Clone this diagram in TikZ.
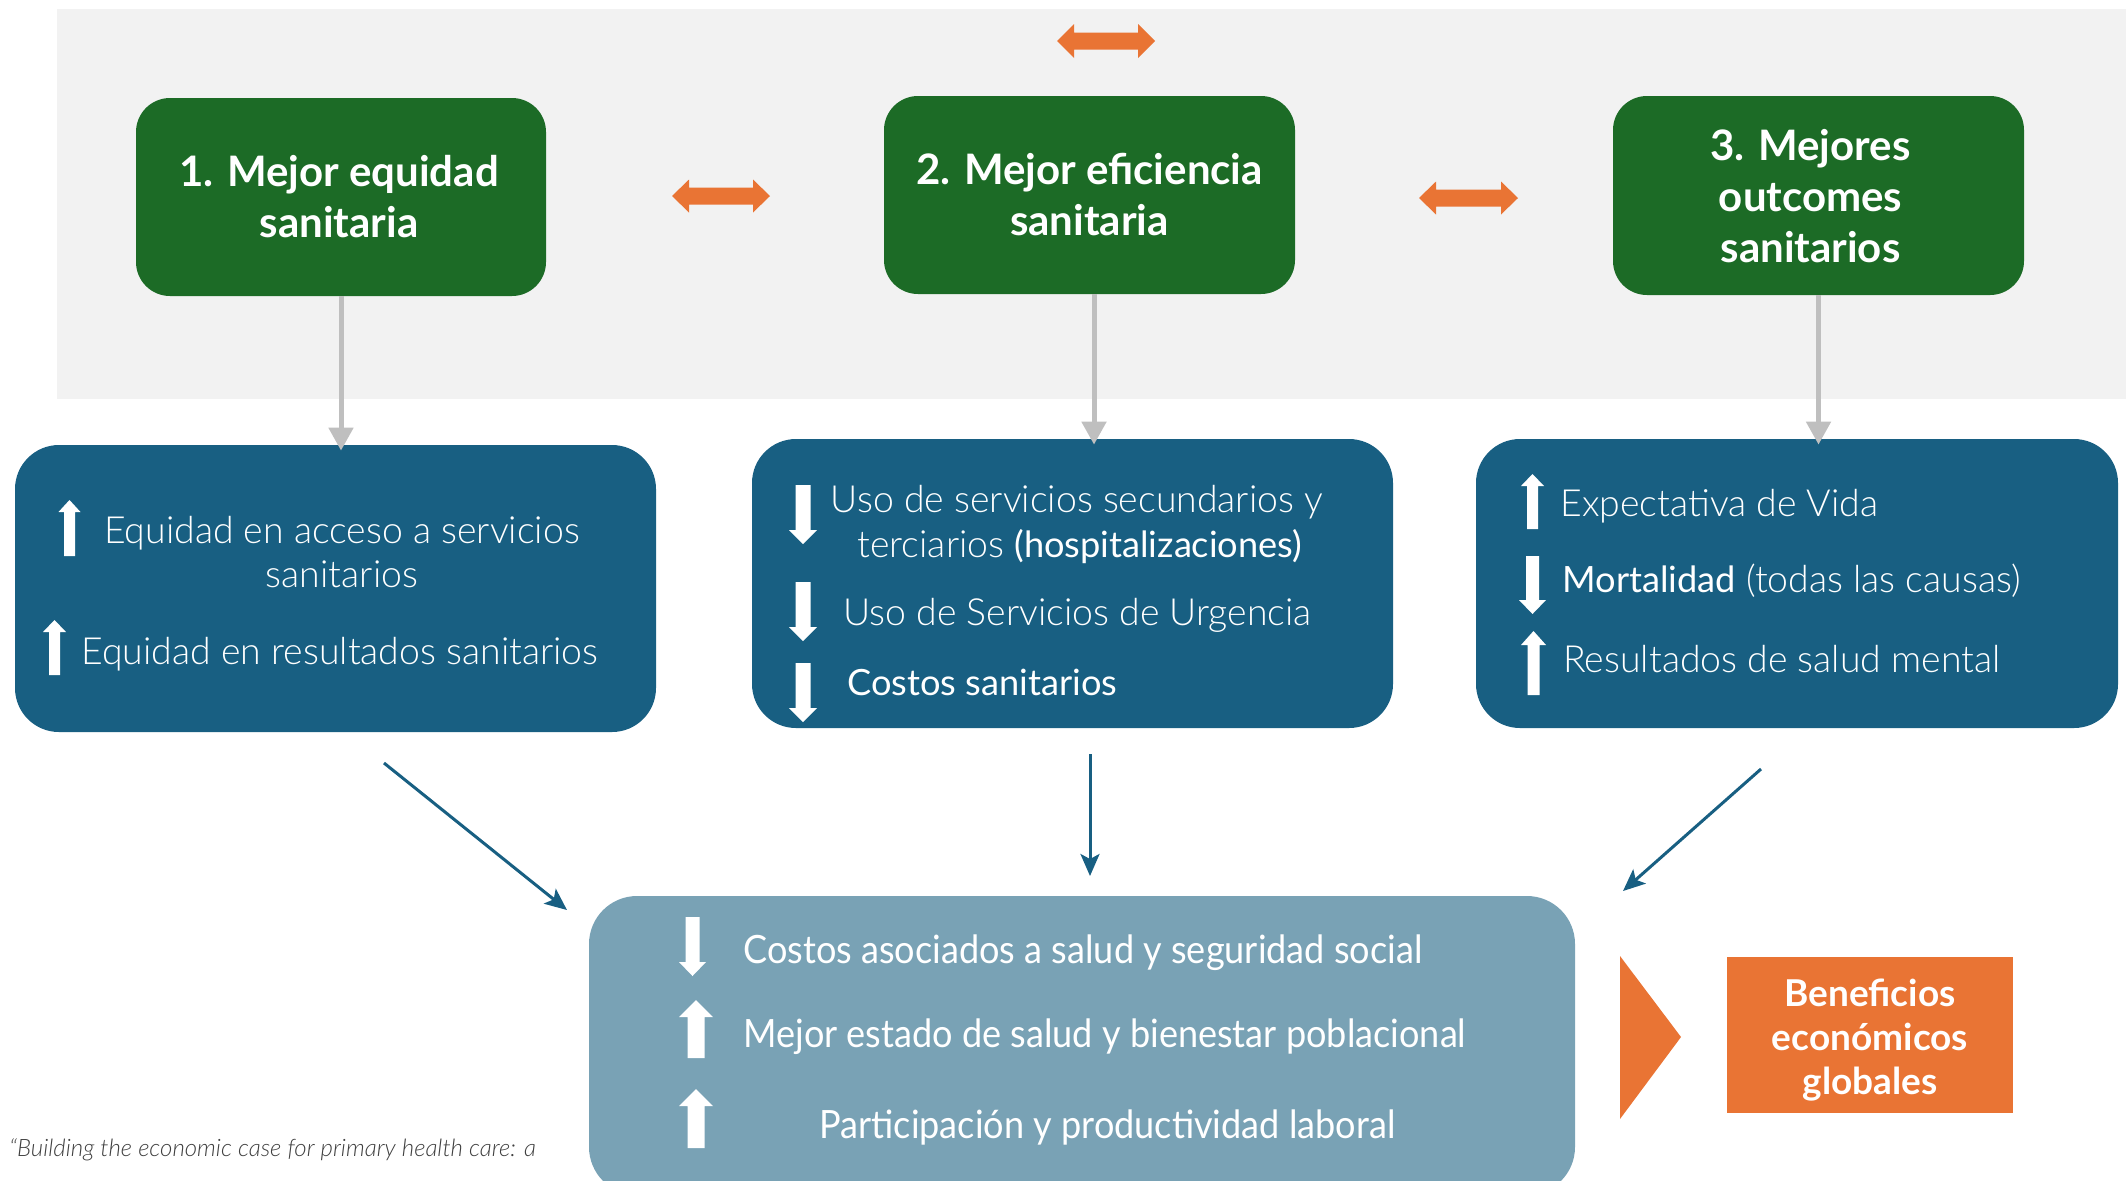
\documentclass[tikz,border=0pt]{standalone}
\usepackage{fontspec}
\setmainfont{Lato}
\newfontfamily\lightf{Lato Light}
\newfontfamily\lightit{Lato Light Italic}
\newfontfamily\condf{Lato}[FakeStretch=0.925]
\usetikzlibrary{arrows.meta}
\definecolor{bggrey}{HTML}{F2F2F2}
\definecolor{gboxc}{HTML}{1C6B26}
\definecolor{bboxc}{HTML}{185F82}
\definecolor{lboxc}{HTML}{79A2B5}
\definecolor{orc}{HTML}{E97434}
\definecolor{garc}{HTML}{BFBFBF}
\definecolor{notec}{HTML}{3F3F3F}
\newcommand\blockarr[6]{\fill[white] ({#1},{#2}) -- ({#1+#4},{#2+(#6)}) -- ({#1+#5},{#2+(#6)}) -- ({#1+#5},{#3}) -- ({#1-#5},{#3}) -- ({#1-#5},{#2+(#6)}) -- ({#1-#4},{#2+(#6)}) -- cycle;}
\newcommand\dblarr[6]{\fill[orc] ({#1},{#3}) -- ({#1+#6},{#3-#4}) -- ({#1+#6},{#3-#5}) -- ({#2-#6},{#3-#5}) -- ({#2-#6},{#3-#4}) -- ({#2},{#3}) -- ({#2-#6},{#3+#4}) -- ({#2-#6},{#3+#5}) -- ({#1+#6},{#3+#5}) -- ({#1+#6},{#3+#4}) -- cycle;}
\newcommand\regf{\rmfamily\fontsize{18.1}{22}\selectfont}
\begin{document}
\begin{tikzpicture}[x=0.5pt,y=-0.5pt,
  greenbox/.style={fill=gboxc, rounded corners=17pt, inner sep=0pt},
  greentext/.style={text=white, align=center, inner sep=0pt,
    font=\bfseries\fontsize{21}{25.5}\selectfont},
  bluebox/.style={fill=bboxc, rounded corners=22pt, inner sep=0pt},
  lbluebox/.style={fill=lboxc, rounded corners=24pt, inner sep=0pt},
  orbox/.style={text=white, align=center, inner sep=0pt,
    font=\bfseries\fontsize{18.5}{22}\selectfont},
  lt/.style={text=white, inner sep=0pt, font=\lightf\fontsize{18.7}{22}\selectfont},
  ct/.style={text=white, inner sep=0pt, font=\condf\fontsize{19.5}{22}\selectfont},
  garr/.style={draw=garc, line width=2.5pt, -{Triangle[length=11.5pt,width=12pt]}, shorten >=-3pt},
  darr/.style={draw=bboxc, line width=1.5pt, -{Stealth[length=11pt,width=9.5pt,inset=2.5pt]}}]
\useasboundingbox (0,0) rectangle (2126,1180);
\clip (0,0) rectangle (2126,1180);
\fill[bggrey] (57,9) rectangle (2126,399);

% top boxes
\node[greenbox, minimum width=205pt, minimum height=99pt] (g1) at (341,197) {};
\node[greentext] (g1t) at (339,197) {1. Mejor equidad\\sanitaria};
\node[greenbox, minimum width=205.5pt, minimum height=99pt] (g2) at (1089.5,195) {};
\node[greentext] (g2t) at (1089.5,195) {2. Mejor eficiencia\\sanitaria};
\node[greenbox, minimum width=205.5pt, minimum height=99.5pt] (g3) at (1818.5,195.5) {};
\node[greentext] (g3t) at (1810.5,196.5) {3. Mejores\\outcomes\\sanitarios};

\dblarr{1057}{1155}{41}{17}{8.5}{17}
\dblarr{672}{770}{196}{16.5}{8.5}{17}
\dblarr{1419}{1518}{198}{16.5}{8.5}{17}

% blue boxes
\node[bluebox, minimum width=320.5pt, minimum height=143.5pt] (b1) at (335.5,588.5) {};
\node[bluebox, minimum width=320.5pt, minimum height=144.5pt] (b2) at (1072.5,583.5) {};
\node[bluebox, minimum width=321pt, minimum height=144.5pt] (b3) at (1797,583.5) {};

\draw[garr] (g1.south) -- (g1.south |- b1.north);
\draw[garr] ([xshift=2.25pt]g2.south) -- ([xshift=2.25pt]g2.south |- b2.north);
\draw[garr] (g3.south) -- (g3.south |- b3.north);

% box 1 texts
\node[lt, anchor=base] (t11) at (342,543) {Equidad en acceso a servicios};
\node[lt, anchor=base] (t12) at (342,587) {sanitarios};
\node[lt, anchor=base] (t13) at (340,664) {Equidad en resultados sanitarios};
\blockarr{69.5}{500}{556}{11}{5.5}{12}
\blockarr{54.5}{620}{675}{11.5}{5.5}{12}

% box 2 texts
\node[lt, anchor=base] (t21) at (1077,512) {Uso de servicios secundarios y};
\node[lt, anchor=base west] (t22) at (857,557) {terciarios {\regf(hospitalizaciones)}};
\node[lt, anchor=base west] (t23) at (843,625) {Uso de Servicios de Urgencia};
\node[lt, anchor=base west] (t24) at (847,695) {\regf Costos sanitarios};
\blockarr{803}{544}{485}{14}{7.5}{-14}
\blockarr{803}{641}{582}{14}{7.5}{-14}
\blockarr{803}{722}{663}{14}{7.5}{-14}

% box 3 texts
\node[lt, anchor=base west] (t31) at (1560,516) {Expectativa de Vida};
\node[lt, anchor=base west] (t32) at (1562,592) {{\regf Mortalidad} (todas las causas)};
\node[lt, anchor=base west] (t33) at (1563,672) {Resultados de salud mental};
\blockarr{1532.5}{474}{529}{11.5}{5.5}{12}
\blockarr{1532.5}{614}{556}{13.5}{6.5}{-14}
\blockarr{1533.5}{631}{695}{12.5}{6}{14}

% bottom box
\node[lbluebox, minimum width=493pt, minimum height=149.5pt] (b4) at (1082,1045.5) {};
\node[ct, anchor=base west] (t41) at (743,963) {Costos asociados a salud y seguridad social};
\node[ct, anchor=base west] (t42) at (743,1047) {Mejor estado de salud y bienestar poblacional};
\node[ct, anchor=base west] (t43) at (819,1138) {Participación y productividad laboral};
\blockarr{692.5}{976}{917}{13.5}{7}{-14}
\blockarr{696}{1000}{1058}{17}{8.5}{17}
\blockarr{696}{1089}{1148}{17}{8.5}{17}

% dark blue arrows
\coordinate (d1s) at (384,763); \coordinate (d1e) at (567,910);
\coordinate (d2s) at (1090,754); \coordinate (d2e) at (1090,876);
\coordinate (d3s) at (1761,769); \coordinate (d3e) at (1623,891);
\draw[darr] (d1s) -- (d1e);
\draw[darr] (d2s) -- (d2e);
\draw[darr] (d3s) -- (d3e);

% result
\fill[orc] (1620,956) -- (1681,1037) -- (1620,1119) -- cycle;
\node[fill=orc, minimum width=143pt, minimum height=78pt, inner sep=0pt] (o1) at (1870,1035) {};
\node[orbox] (o1t) at (1870,1040) {Beneficios\\económicos\\globales};

% footnote
\node[anchor=base west, inner sep=0pt, text=notec, font=\lightit\fontsize{12}{14}\selectfont] (fn) at (9,1156) {“Building the economic case for primary health care: a};
\end{tikzpicture}
\end{document}
